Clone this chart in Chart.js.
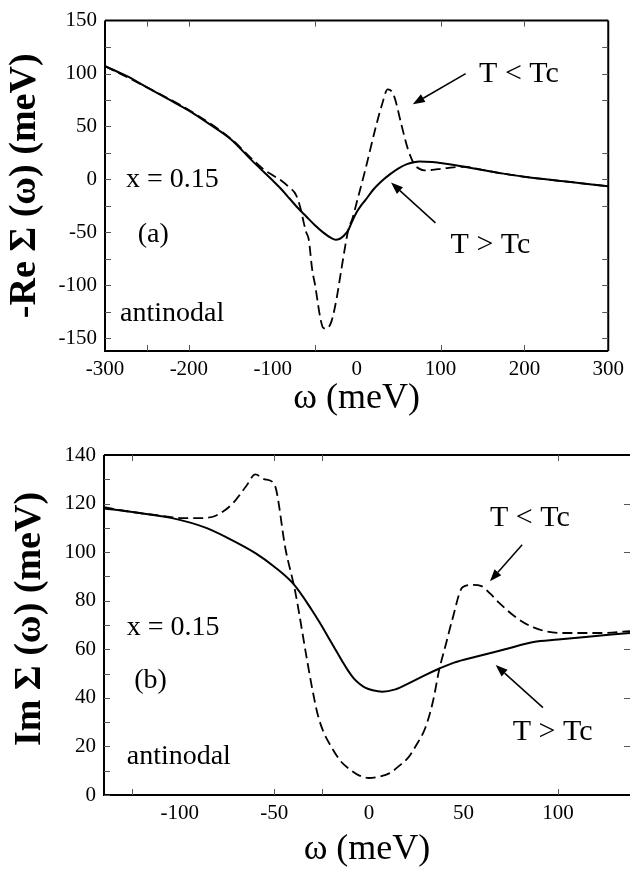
<!DOCTYPE html>
<html>
<head>
<meta charset="utf-8">
<script src="https://cdn.jsdelivr.net/npm/chart.js@4.4.1/dist/chart.umd.min.js"></script>
<style>
  html, body { margin: 0; padding: 0; background: #fff; }
  #wrap { position: relative; width: 630px; height: 873px; }
  .panel { position: absolute; left: 0; width: 630px; }
  #topPanel { top: 0; height: 430px; }
  #botPanel { top: 430px; height: 443px; }
</style>
</head>
<body>
<div id="wrap">
  <div class="panel" id="topPanel"><canvas id="reChart"></canvas></div>
  <div class="panel" id="botPanel"><canvas id="imChart"></canvas></div>
</div>
<script>
// === Panel (a): -Re Sigma ===
const reOmegaAbove = [-300, -275, -250, -225, -200, -175, -150, -125, -100, -90, -80, -70, -60, -50, -40, -30, -25, -20, -15, -10, -5, 0, 5, 10, 20, 30, 40, 50, 60, 75, 90, 100, 125, 150, 175, 200, 250, 300];
const reSigmaAbove = [107, 98, 87, 76, 65, 52, 38, 18, -1, -9, -18, -27, -35, -43, -50, -55.5, -57, -56, -53, -48, -39, -31, -25, -20, -9.5, -1.5, 5, 10.5, 14.5, 17, 16.5, 15.5, 12.5, 9, 5.5, 2.5, -2, -6.5];
const reOmegaBelow = [-300, -250, -200, -150, -125, -110, -100, -90, -81, -72, -66, -63, -60, -57, -53, -49, -46, -43, -40, -36, -30, -24, -18, -10, -5, 0, 10, 23, 30, 37, 40, 45, 53, 61, 69, 75, 81, 90, 100, 110, 128, 150, 175, 200, 250, 300];
const reSigmaBelow = [107, 87, 65.5, 38.5, 19.5, 9, 4, -1, -7, -15, -30, -41, -50, -57, -85, -102, -118, -132, -140, -141, -134, -113, -84, -48, -37, -22, 8, 50, 70, 85, 84.5, 78, 53, 29, 14, 10, 8.5, 9, 10, 11, 12, 9, 5.5, 2.5, -2, -6.5];
const reXLabels = [-300, -200, -100, 0, 100, 200, 300];
const reYLabels = [-150, -100, -50, 0, 50, 100, 150];
const reXMarks = [-250, -200, -50, 100, 200];
const reYMarksLeft = [-150, -125, -100, -75, -50, -25, 0, 25, 50, 75, 100, 125];
const reYMarksRight = [-150, -125, -100, -75, -25, 0, 25, 75, 100, 125];

// === Panel (b): Im Sigma ===
const imOmegaAbove = [-140, -125, -104, -86, -75, -60, -50, -40, -30, -26, -20, -17, -14, -11, -8, -5, -2, 2, 7, 14, 21, 30, 37, 45, 57, 72, 87, 100, 113, 138];
const imSigmaAbove = [118, 116.5, 114, 110, 106, 99.6, 94, 87, 76, 71, 63, 59, 55, 51.2, 48, 45.8, 44.2, 43.1, 42.5, 43.5, 46, 49.5, 52, 54.5, 57, 60, 63, 64, 65, 66.7];
const imOmegaBelow = [-140, -125, -110, -98, -90, -81, -72, -65, -60, -55, -50, -44, -39, -33, -30, -27, -24, -20, -15, -10, -5, 0, 5, 11, 16, 21, 25, 30, 34, 37, 41, 44, 49.5, 55, 59.5, 64, 69, 78, 87, 101, 122, 138];
const imSigmaBelow = [118.5, 116.5, 115, 114, 114, 115, 120, 127, 132, 130, 128, 101, 84, 57, 44, 33, 26, 20, 14, 10.5, 8, 7, 7.5, 9, 12, 15.6, 20.5, 28, 39, 51, 63, 72, 85.5, 86.5, 86, 83, 79, 73, 69, 66.7, 66.7, 67.5];
const imXLabels = [-100, -50, 0, 50, 100];
const imYLabels = [0, 20, 40, 60, 80, 100, 120, 140];
const imXMarks = [-125, -50, -25, 100];
const imYMarksLeft = [0, 10, 20, 30, 40, 50, 60, 70, 80, 90, 100, 110, 120, 130];
const imYMarksRight = [20, 40, 60, 100, 120];

const pairs = (xs, ys) => xs.map((v, i) => ({ x: v, y: ys[i] }));
const SERIF = '"Liberation Serif", "DejaVu Serif", serif';

// Frame, inward ticks, titles, notes and arrows
const framePlugin = {
  id: "frame",
  afterDraw(chart, args, o) {
    const { ctx, chartArea: a, scales: { x, y } } = chart;
    ctx.save();
    ctx.strokeStyle = "#000";
    ctx.lineWidth = 2;
    ctx.beginPath();
    ctx.moveTo(a.left, a.top); ctx.lineTo(a.right, a.top);
    ctx.moveTo(a.left, a.top); ctx.lineTo(a.left, a.bottom); ctx.lineTo(a.right, a.bottom);
    if (o.rightBorder) { ctx.moveTo(a.right, a.top); ctx.lineTo(a.right, a.bottom); }
    ctx.stroke();

    ctx.lineWidth = 1;
    ctx.strokeStyle = "#555";
    ctx.beginPath();
    o.xMarks.forEach(v => {
      const px = Math.round(x.getPixelForValue(v)) + 0.5;
      ctx.moveTo(px, a.bottom); ctx.lineTo(px, a.bottom - 6);
      ctx.moveTo(px, a.top); ctx.lineTo(px, a.top + 6);
    });
    o.yMarksLeft.forEach(v => {
      const py = Math.round(y.getPixelForValue(v)) + 0.5;
      ctx.moveTo(a.left, py); ctx.lineTo(a.left + 6, py);
    });
    o.yMarksRight.forEach(v => {
      const py = Math.round(y.getPixelForValue(v)) + 0.5;
      ctx.moveTo(a.right, py); ctx.lineTo(a.right - 6, py);
    });
    ctx.stroke();

    // axis titles
    ctx.fillStyle = "#000";
    ctx.textAlign = "center";
    ctx.textBaseline = "middle";
    ctx.font = "bold 38px " + SERIF;
    ctx.save();
    ctx.translate(o.yTitleX, (a.top + a.bottom) / 2 + o.yTitleDy);
    ctx.rotate(-Math.PI / 2);
    ctx.fillText(o.yTitle, 0, 0);
    ctx.restore();
    ctx.font = "36px " + SERIF;
    ctx.fillText(o.xTitle, (a.left + a.right) / 2, o.xTitleY);

    // notes
    ctx.textAlign = "left";
    o.notes.forEach(n => {
      ctx.font = n.size + "px " + SERIF;
      ctx.fillText(n.text, x.getPixelForValue(n.x), y.getPixelForValue(n.y));
    });

    // arrows
    ctx.lineWidth = 1.5;
    ctx.strokeStyle = "#000";
    o.arrows.forEach(ar => {
      const x0 = x.getPixelForValue(ar.from[0]), y0 = y.getPixelForValue(ar.from[1]);
      const x1 = x.getPixelForValue(ar.to[0]), y1 = y.getPixelForValue(ar.to[1]);
      const ang = Math.atan2(y1 - y0, x1 - x0);
      const hl = 12, hw = 4.5;
      const bx = x1 - hl * Math.cos(ang), by = y1 - hl * Math.sin(ang);
      ctx.beginPath();
      ctx.moveTo(x0, y0); ctx.lineTo(bx, by);
      ctx.stroke();
      ctx.beginPath();
      ctx.moveTo(x1, y1);
      ctx.lineTo(bx + hw * Math.sin(ang), by - hw * Math.cos(ang));
      ctx.lineTo(bx - hw * Math.sin(ang), by + hw * Math.cos(ang));
      ctx.closePath();
      ctx.fill();
    });
    ctx.restore();
  }
};

function makeChart(id, cfg) {
  return new Chart(document.getElementById(id), {
    type: "line",
    data: {
      datasets: [
        {
          data: cfg.solid,
          borderColor: "#000",
          borderWidth: 2,
          pointRadius: 0,
          cubicInterpolationMode: "monotone"
        },
        {
          data: cfg.dashed,
          borderColor: "#000",
          borderWidth: 1.8,
          borderDash: [10, 5],
          pointRadius: 0,
          cubicInterpolationMode: "monotone"
        }
      ]
    },
    options: {
      responsive: true,
      maintainAspectRatio: false,
      animation: false,
      layout: { padding: cfg.padding },
      plugins: {
        legend: { display: false },
        tooltip: { enabled: false },
        frame: cfg.frame
      },
      scales: {
        x: {
          type: "linear",
          min: cfg.xMin,
          max: cfg.xMax,
          afterBuildTicks: s => { s.ticks = cfg.xLabels.map(v => ({ value: v })); },
          afterFit: s => { s.height = cfg.xHeight; },
          ticks: { color: "#000", font: { family: SERIF, size: 21 }, padding: 6, maxRotation: 0, autoSkip: false },
          grid: { display: false, drawTicks: false, tickLength: 0 },
          border: { display: false }
        },
        y: {
          type: "linear",
          min: cfg.yMin,
          max: cfg.yMax,
          afterBuildTicks: s => { s.ticks = cfg.yLabels.map(v => ({ value: v })); },
          afterFit: s => { s.width = cfg.yWidth; },
          ticks: { color: "#000", font: { family: SERIF, size: 21 }, padding: 8, autoSkip: false },
          grid: { display: false, drawTicks: false, tickLength: 0 },
          border: { display: false }
        }
      }
    },
    plugins: [framePlugin]
  });
}

makeChart("reChart", {
  solid: pairs(reOmegaAbove, reSigmaAbove),
  dashed: pairs(reOmegaBelow, reSigmaBelow),
  xMin: -300, xMax: 300, yMin: -162, yMax: 150,
  xLabels: reXLabels, yLabels: reYLabels,
  xHeight: 79, yWidth: 105,
  padding: { top: 11, right: 18, bottom: 0, left: 0 },
  frame: {
    rightBorder: true,
    xMarks: reXMarks, yMarksLeft: reYMarksLeft, yMarksRight: reYMarksRight,
    yTitle: "-Re \u03A3 (\u03C9) (meV)", yTitleX: 25, yTitleDy: 0,
    xTitle: "\u03C9 (meV)", xTitleY: 399,
    notes: [
      { text: "x = 0.15", x: -275, y: 0, size: 28 },
      { text: "(a)", x: -261, y: -52, size: 28 },
      { text: "antinodal", x: -282, y: -127, size: 28 },
      { text: "T < Tc", x: 146, y: 99, size: 30 },
      { text: "T > Tc", x: 112, y: -62, size: 30 }
    ],
    arrows: [
      { from: [130, 100], to: [67, 71] },
      { from: [94, -41], to: [41, -3] }
    ]
  }
});

makeChart("imChart", {
  solid: pairs(imOmegaAbove, imSigmaAbove),
  dashed: pairs(imOmegaBelow, imSigmaBelow),
  xMin: -140, xMax: 138, yMin: 0, yMax: 140,
  xLabels: imXLabels, yLabels: imYLabels,
  xHeight: 78, yWidth: 104,
  padding: { top: 25, right: 0, bottom: 0, left: 0 },
  frame: {
    rightBorder: false,
    xMarks: imXMarks, yMarksLeft: imYMarksLeft, yMarksRight: imYMarksRight,
    yTitle: "Im \u03A3 (\u03C9) (meV)", yTitleX: 30, yTitleDy: -6,
    xTitle: "\u03C9 (meV)", xTitleY: 420,
    notes: [
      { text: "x = 0.15", x: -128, y: 69, size: 28 },
      { text: "(b)", x: -124, y: 47, size: 28 },
      { text: "antinodal", x: -128, y: 16, size: 28 },
      { text: "T < Tc", x: 64, y: 114, size: 30 },
      { text: "T > Tc", x: 76, y: 26, size: 30 }
    ],
    arrows: [
      { from: [81, 103], to: [64, 88] },
      { from: [92, 36], to: [67, 53.5] }
    ]
  }
});
</script>
</body>
</html>
